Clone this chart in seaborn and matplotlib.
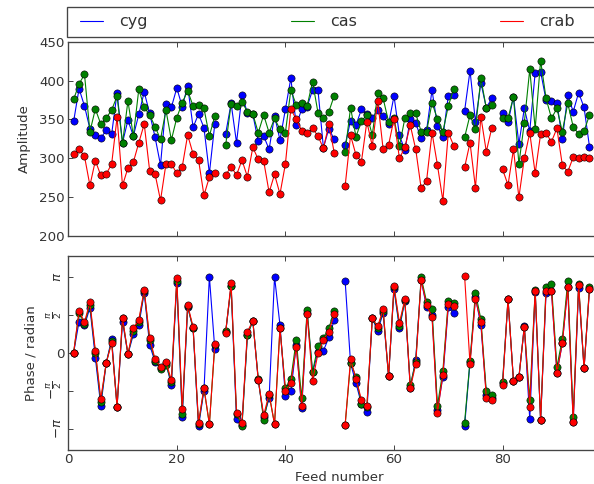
import numpy as np
import pandas as pd
import matplotlib
matplotlib.use("Agg")
import matplotlib.pyplot as plt
import seaborn as sns
from matplotlib.lines import Line2D
from matplotlib.patches import Rectangle

nan = np.nan
feeds = list(range(1, 97))
sources = ["cyg", "cas", "crab"]
colors = {"cyg": "#0000ff", "cas": "#008000", "crab": "#ff0000"}

amp_cyg = [347.5, 389.6, 367.2, 338, 330, 326, 336, 331, 384.4, 320,
           349, 328.6, 356.5, 385.3, 357.8, 327, 291.3, 370, 365.5, 390.4,
           366.4, 393, 339.8, 357, 339.3, 280.6, 344.5, nan, 331.6, 370.7,
           320, 381, 358.7, 356.5, 321.8, 328.6, 311.5, 354.8, 323.5, 363,
           402.9, 342.8, 363, 366.4, 387.8, 387.8, 313.6, 338, 324.3, nan,
           317, 348.4, 342.8, 363, 356.5, 352, 362, 354.4, 344, 380.1,
           329.5, 310.6, 350.1, 345, 325.6, 336, 387.8, 341.5, 326.9, 380.5,
           381.4, nan, 360.8, 412.7, 347.1, 397.3, 365, 377.1, nan, 357.8,
           346.2, 379.2, 318.3, 364.2, 335, 410.1, 411.4, 375, 374.1, 371.5,
           324.3, 381.4, 359.9, 384.4, 365.5, 314.9]
amp_cas = [375.8, 395.6, 408, 334.2, 363.4, 344, 351.8, 362, 380, 319.2,
           373.7, 328.6, 388.7, 365.5, 355.7, 340.7, 324.4, 362, 323.5, 352.2,
           371.5, 387, 367.2, 368.5, 364.2, 328.6, 354.4, nan, 317, 370,
           367.7, 372.4, 360, 357, 332.9, 355.7, 332.9, 351.4, 337.2, 332.9,
           387.8, 368.5, 371.5, 367.2, 398.6, 358.7, 351.4, 360, 380.5, nan,
           308.4, 365, 327.8, 347.9, 355.7, 329.9, 383.5, 377.1, 347, 351.4,
           315.8, 351.4, 357.8, 357.8, 334.2, 334.2, 371.5, 350.5, 334.2, 367.2,
           389.1, nan, 326.9, 355.6, 337.2, 402.8, 364.2, 368.5, nan, 351.4,
           351.4, 379.2, 292.6, 345.8, 414.4, 338, 425.6, 377.1, 351.4, 364.2,
           334.2, 370.7, 340.6, 331.2, 335, 355.6]
amp_crab = [305.5, 311.9, 302.5, 265, 297, 278, 279.7, 292.6, 352.7, 265,
            287.5, 295, 320, 344, 284, 279.7, 245.8, 292.6, 292.6, 280.6,
            289, 330, 305.5, 298, 252.3, 275.8, 281.4, nan, 278.4, 289.2,
            278.4, 297.7, 276.3, 314, 298.6, 296.5, 256.1, 279.3, 254, 292.6,
            363.4, 350.1, 335.5, 332, 338.5, 328.6, 312.8, 343.5, 307, nan,
            264.3, 329.5, 304.2, 295.6, 347, 315.8, 374.1, 311.5, 317, 351,
            299.9, 314, 342.6, 311.5, 261.3, 271.1, 332.9, 291.3, 245.4, 332.9,
            316.2, nan, 288.3, 320, 262.1, 353.5, 308.5, 338.9, nan, 285.7,
            265.6, 311.5, 249.7, 299.9, 332.9, 280.6, 331.2, 332, 321.3, 338.5,
            291.3, 282.7, 301.2, 299.9, 302, 299.9]

# phases in units of pi
phase_cyg_pi = [0, 0.41, 0.36, 0.59, -0.066, -0.70, -0.136, 0.18, -0.71, 0.41,
                -0.02, 0.24, 0.36, 0.79, 0.10, -0.12, -0.2, -0.14, -0.425, 0.92,
                -0.84, 0.60, 0.32, -0.97, -0.50, 1.0, 0.044, nan, 0.27, 0.877,
                -0.877, -0.95, 0.23, 0.42, -0.36, -0.85, -0.60, 1.0, 0.364, -0.57,
                -0.51, 0.10, -0.73, 0.52, -0.26, 0.01, 0.026, 0.20, 0.43, nan,
                0.947, -0.14, -0.40, -0.675, -0.78, 0.45, 0.29, 0.52, -0.31, 0.833,
                0.32, 0.68, -0.46, -0.09, 0.956, 0.60, 0.5, -0.75, -0.32, 0.60,
                0.526, nan, -0.965, -0.12, 0.73, 0.364, -0.55, -0.6, nan, -0.4,
                0.7, -0.37, -0.325, 0.35, -0.877, 0.8, -0.886, 0.79, 0.816, -0.263,
                0.123, 0.86, -0.908, 0.85, -0.206, 0.833]
phase_cas_pi = [0, 0.526, 0.38, 0.63, 0.0, -0.645, -0.136, 0.15, -0.71, 0.45,
                -0.02, 0.29, 0.41, 0.81, 0.17, -0.11, -0.21, -0.16, -0.38, 0.947,
                -0.80, 0.61, 0.32, -0.94, -0.47, -0.94, 0.10, nan, 0.28, 0.877,
                -0.81, -0.97, 0.23, 0.42, -0.34, -0.886, -0.55, -0.94, 0.32, -0.47,
                -0.35, 0.167, -0.60, 0.56, -0.25, 0.088, 0.197, 0.32, 0.55, nan,
                -0.95, -0.13, -0.32, -0.67, -0.72, 0.45, 0.32, 0.55, -0.31, 0.86,
                0.35, 0.69, -0.43, -0.12, 0.99, 0.67, 0.57, -0.70, -0.24, 0.68,
                0.66, nan, -0.92, -0.105, 0.79, 0.44, -0.51, -0.56, nan, -0.38,
                0.71, -0.37, -0.325, 0.34, -0.62, 0.82, -0.886, 0.87, 0.90, -0.19,
                0.184, 0.947, -0.84, 0.9, -0.206, 0.87]
phase_crab_pi = [0, 0.553, 0.40, 0.667, 0.026, -0.605, -0.136, 0.13, -0.71, 0.46,
                 -0.02, 0.325, 0.43, 0.825, 0.197, -0.088, -0.184, -0.12, -0.36, 0.978,
                 -0.745, 0.627, 0.34, -0.92, -0.46, -0.94, 0.114, nan, 0.263, 0.92,
                 -0.79, -0.92, 0.276, 0.42, -0.36, -0.82, -0.544, -0.94, 0.32, -0.5,
                 -0.40, 0.07, -0.70, 0.51, -0.37, -0.01, 0.167, 0.276, 0.51, nan,
                 -0.95, -0.088, -0.34, -0.62, -0.70, 0.45, 0.35, 0.57, -0.31, 0.877,
                 0.395, 0.70, -0.47, -0.15, 0.956, 0.627, 0.47, -0.79, -0.29, 0.64,
                 0.614, nan, 1.01, -0.15, 0.706, 0.41, -0.59, -0.62, nan, -0.425,
                 0.70, -0.37, -0.325, 0.34, -0.71, 0.816, -0.886, 0.816, 0.816, -0.263,
                 0.123, 0.86, -0.908, 0.89, -0.206, 0.833]

phase_ticks_pi = [-1, -0.5, 0, 0.5, 1]
phase_ticklabels = [r"$-\pi$", r"$-\frac{\pi}{2}$", "0", r"$\frac{\pi}{2}$", r"$\pi$"]
amp_ticks = [200, 250, 300, 350, 400, 450]
x_ticks = [0, 20, 40, 60, 80]


def long_frame(series):
    rows = []
    for src, vals in series.items():
        seg = 0
        for f, v in zip(feeds, vals):
            if np.isnan(v):
                seg += 1
                continue
            rows.append({"feed": f, "value": v, "source": src, "seg": seg})
    return pd.DataFrame(rows)


df_amp = long_frame({"cyg": amp_cyg, "cas": amp_cas, "crab": amp_crab})
df_ph = long_frame({"cyg": np.array(phase_cyg_pi) * np.pi,
                    "cas": np.array(phase_cas_pi) * np.pi,
                    "crab": np.array(phase_crab_pi) * np.pi})

ink = "#333333"
sns.set_theme(style="ticks", rc={
    "xtick.direction": "in", "ytick.direction": "in",
    "xtick.top": True, "ytick.right": True,
    "xtick.major.size": 4.5, "ytick.major.size": 4.5,
    "xtick.major.width": 0.8, "ytick.major.width": 0.8,
    "axes.linewidth": 1.2, "axes.edgecolor": "#444444",
    "xtick.color": ink, "ytick.color": ink,
    "axes.labelcolor": ink, "text.color": ink,
    "font.size": 12, "axes.labelsize": 12,
    "xtick.labelsize": 12, "ytick.labelsize": 12,
})
plt.rcParams["font.family"] = ["DejaVu Sans"]

W, H = 594, 484
fig = plt.figure(figsize=(W / 80, H / 80), dpi=80)
left, axw = 68.2 / W, 543 / W
ax1 = fig.add_axes([left, 1 - 236 / H, axw, (236 - 41.7) / H])
ax2 = fig.add_axes([left, 1 - 449.5 / H, axw, (449.5 - 255.9) / H])

line_kw = dict(x="feed", y="value", hue="source", hue_order=sources,
               palette=colors, units="seg", estimator=None, sort=False,
               marker="o", markersize=6.5, markeredgecolor="black",
               markeredgewidth=0.5, linewidth=1.0, legend=False)
sns.lineplot(data=df_amp, ax=ax1, **line_kw)
sns.lineplot(data=df_ph, ax=ax2, **line_kw)

for ax in (ax1, ax2):
    ax.set_xlim(0, 100)
    ax.set_xticks(x_ticks)
    for s in ax.spines.values():
        s.set_visible(True)

ax1.set_ylim(200, 450)
ax1.set_yticks(amp_ticks)
ax1.tick_params(labelbottom=False)
ax1.set_xlabel("")
ax1.set_ylabel("Amplitude")
ax1.yaxis.set_label_coords((31 - 68.2) / 543, 0.5)

ax2.set_ylim(-4, 4)
ax2.set_yticks(np.array(phase_ticks_pi) * np.pi)
ax2.set_yticklabels(phase_ticklabels)
for lab in ax2.get_yticklabels():
    if lab.get_text() != "0":
        lab.set_rotation(90)
        lab.set_va("center")
ax2.set_xlabel("Feed number")
ax2.set_ylabel("Phase / radian")
ax2.yaxis.set_label_coords((37 - 68.2) / 543, 0.5)

# legend box (runs off the right edge like the reference); drawn beneath axes
frame = Rectangle((67.3 / W, 1 - 37 / H), (640 - 67.3) / W, 30 / H,
                  transform=fig.transFigure, facecolor="white",
                  edgecolor="#444444", linewidth=1.2, clip_on=False, zorder=-1)
fig.add_artist(frame)

handles = [Line2D([], [], color=colors[s], lw=1.0) for s in sources]
leg = ax1.legend(handles, sources, loc="center left", ncol=3,
                 bbox_to_anchor=((74.4 - 68.2) / 543, (236 - 22) / 194.3),
                 borderaxespad=0, fontsize=14.4, handlelength=1.45,
                 handletextpad=1.0, borderpad=0.35, columnspacing=8.95,
                 frameon=False)
leg.set_zorder(5)

fig.savefig("out.png", dpi=80)
